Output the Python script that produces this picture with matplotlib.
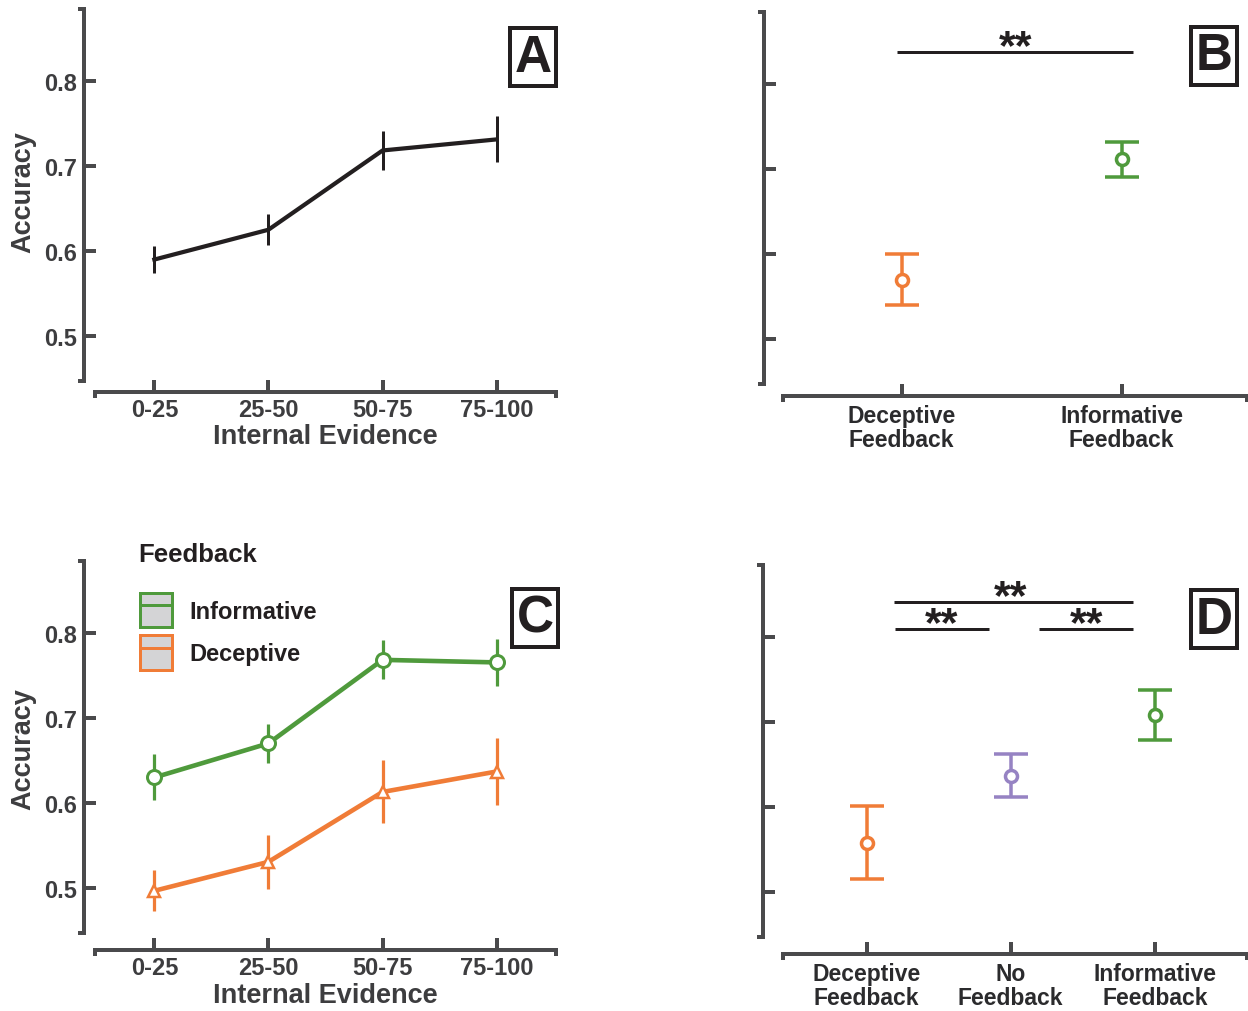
import matplotlib
matplotlib.use("Agg")
import matplotlib.pyplot as plt
from matplotlib.patches import Rectangle
from matplotlib.lines import Line2D

# ---- data ----
evidence_bins = ["0-25", "25-50", "50-75", "75-100"]

# A: accuracy by internal evidence
acc_all = [0.590, 0.625, 0.718, 0.731]
err_all = [0.016, 0.018, 0.023, 0.027]

# C: split by feedback type
acc_inf = [0.630, 0.670, 0.768, 0.765]
err_inf = [0.027, 0.023, 0.023, 0.028]
acc_dec = [0.497, 0.531, 0.613, 0.637]
err_dec = [0.024, 0.032, 0.037, 0.039]

# B: two feedback conditions
b_labels = ["Deceptive\nFeedback", "Informative\nFeedback"]
b_acc = [0.570, 0.711]
b_err = [0.030, 0.021]

# D: three feedback conditions
d_labels = ["Deceptive\nFeedback", "No\nFeedback", "Informative\nFeedback"]
d_acc = [0.558, 0.637, 0.708]
d_err = [0.043, 0.025, 0.029]

# significance bars: (x_start, x_end, y, star_x)
b_sig = [(-0.02, 1.05, 0.837, 0.52)]
d_sig = [(0.19, 1.85, 0.841, 1.0),
         (0.20, 0.85, 0.809, 0.52),
         (1.20, 1.85, 0.809, 1.53)]

GREEN = "#4f9a3c"
ORANGE = "#f07c37"
PURPLE = "#9683c3"
GRAY = "#4a4a4c"
TXT = "#3d3d3f"
BLACK = "#231f20"

plt.rcParams["font.family"] = ["Liberation Sans", "DejaVu Sans"]
plt.rcParams["font.weight"] = "bold"

W, H = 1248, 1012
PT = 72 / 100  # points per pixel at dpi 100
YLIM = (0.4475, 0.884)

fig = plt.figure(figsize=(W / 100, H / 100), dpi=100)


def px_axes(left, top, right, bottom):
    return fig.add_axes([left / W, 1 - bottom / H, (right - left) / W, (bottom - top) / H])


def style(ax, xlim, xticks, xlabels, yoff, xoff, show_ylabels):
    ax.set_xlim(xlim)
    ax.set_ylim(YLIM)
    ax.patch.set_alpha(0)
    for s in ["top", "right"]:
        ax.spines[s].set_visible(False)
    ax.spines["left"].set_position(("outward", yoff * PT))
    ax.spines["bottom"].set_position(("outward", xoff * PT))
    for s in ["left", "bottom"]:
        ax.spines[s].set_linewidth(4 * PT)
        ax.spines[s].set_color(GRAY)
    ax.set_yticks([0.5, 0.6, 0.7, 0.8])
    ax.set_yticklabels(["0.5", "0.6", "0.7", "0.8"] if show_ylabels else [])
    ax.set_yticks(list(YLIM), minor=True)
    ax.set_xticks(xticks)
    ax.set_xticklabels(xlabels)
    ax.set_xticks(list(xlim), minor=True)
    ax.tick_params(which="major", direction="in", length=12 * PT, width=4 * PT,
                   color=GRAY, labelcolor=TXT, labelsize=17, pad=5)
    ax.tick_params(axis="x", pad=4)
    ax.tick_params(which="minor", direction="out", length=6 * PT, width=4 * PT, color=GRAY)


def panel_letter(cx, cy, s):
    fig.text(cx / W, 1 - cy / H, s, fontsize=37, color=BLACK, ha="center", va="center",
             bbox=dict(boxstyle="square,pad=0.08", fc="white", ec=BLACK, lw=4 * PT))


def sig_bars(ax, bars):
    for x0, x1, y, xs in bars:
        ax.plot([x0, x1], [y, y], color=BLACK, lw=3 * PT, solid_capstyle="butt")
        ax.annotate("**", xy=(xs, y), xytext=(0, -4.5), textcoords="offset points",
                    ha="center", va="baseline", fontsize=31, color=BLACK)


def point_err(ax, xs, ys, es, colors):
    for x, y, e, c in zip(xs, ys, es, colors):
        ax.errorbar([x], [y], yerr=[e], fmt="o", ms=12 * PT, mfc="white", mec=c, mew=3.5 * PT,
                    ecolor=c, elinewidth=3.5 * PT, capsize=17 * PT, capthick=4 * PT)


def feedback_labels(ax):
    ax.tick_params(axis="x", labelsize=16.5, labelcolor="#2b2b2d", pad=6)
    for t in ax.get_xticklabels():
        t.set_linespacing(1.05)


xi = list(range(len(evidence_bins)))

# ---- A ----
axA = px_axes(95, 10, 556, 382)
style(axA, (-0.52, 3.52), xi, evidence_bins, 11, 11, True)
axA.errorbar(xi, acc_all, yerr=err_all, color=BLACK, lw=4.2 * PT, elinewidth=3 * PT, capsize=0)
fig.text(23 / W, 1 - 192 / H, "Accuracy", rotation=90, ha="center", va="center", fontsize=19.5, color=TXT)
fig.text(325 / W, 1 - 437 / H, "Internal Evidence", ha="center", va="center", fontsize=19.5, color=TXT)
panel_letter(533, 58, "A")

# ---- B ----
axB = px_axes(783, 13, 1247, 385)
style(axB, (-0.54, 1.57), [0, 1], b_labels, 19, 12, False)
point_err(axB, [0, 1], b_acc, b_err, [ORANGE, GREEN])
sig_bars(axB, b_sig)
feedback_labels(axB)
panel_letter(1214, 57, "B")

# ---- C ----
axC = px_axes(95, 562, 556, 934)
style(axC, (-0.52, 3.52), xi, evidence_bins, 11, 17, True)
axC.errorbar(xi, acc_inf, yerr=err_inf, color=GREEN, lw=4.6 * PT, elinewidth=3.2 * PT, capsize=0,
             marker="o", ms=14 * PT, mfc="white", mec=GREEN, mew=3 * PT)
axC.errorbar(xi, acc_dec, yerr=err_dec, color=ORANGE, lw=4.6 * PT, elinewidth=3.2 * PT, capsize=0,
             marker="^", ms=12.5 * PT, mfc="white", mec=ORANGE, mew=2.5 * PT)
fig.text(23 / W, 1 - 749 / H, "Accuracy", rotation=90, ha="center", va="center", fontsize=19.5, color=TXT)
fig.text(325 / W, 1 - 996 / H, "Internal Evidence", ha="center", va="center", fontsize=19.5, color=TXT)
fig.text(138 / W, 1 - 555 / H, "Feedback", ha="left", va="center", fontsize=18.5, color=BLACK)
handles = [
    (Rectangle((0, 0), 1, 1, fc="#d4d4d6", ec=GREEN, lw=3 * PT), Line2D([], [], color=GREEN, lw=3 * PT)),
    (Rectangle((0, 0), 1, 1, fc="#d4d4d6", ec=ORANGE, lw=3 * PT), Line2D([], [], color=ORANGE, lw=3 * PT)),
]
leg = axC.legend(handles, ["Informative", "Deceptive"], loc="upper left",
                 bbox_to_anchor=(140 / W, 1 - 594 / H), bbox_transform=fig.transFigure,
                 frameon=False, fontsize=17, handlelength=1.35, handleheight=1.85,
                 handletextpad=0.75, labelspacing=0.35, borderpad=0, borderaxespad=0)
for t in leg.get_texts():
    t.set_color(BLACK)
panel_letter(535, 619, "C")

# ---- D ----
axD = px_axes(783, 566, 1247, 938)
style(axD, (-0.58, 2.64), [0, 1, 2], d_labels, 20, 17, False)
point_err(axD, [0, 1, 2], d_acc, d_err, [ORANGE, PURPLE, GREEN])
sig_bars(axD, d_sig)
feedback_labels(axD)
panel_letter(1214, 620, "D")

fig.savefig("out.png", dpi=100)
